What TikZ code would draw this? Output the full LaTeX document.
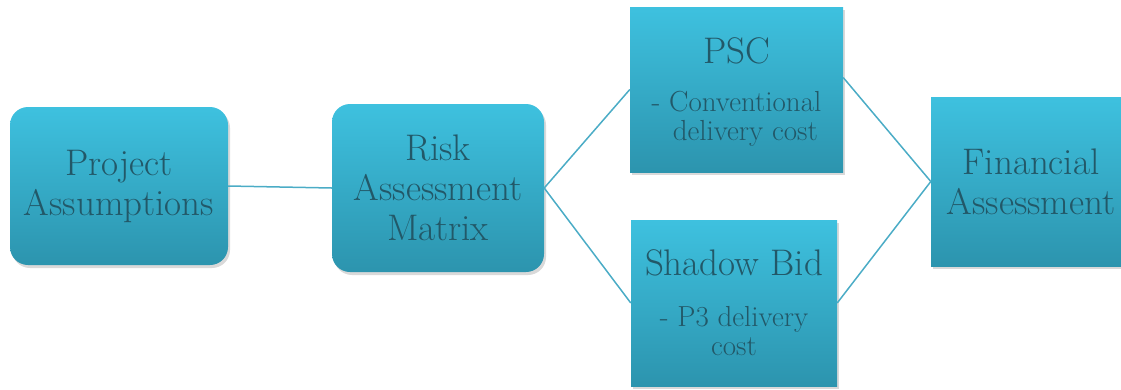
\documentclass[tikz,border=0pt]{standalone}
\usepackage{fontspec}
\usepackage{tikz}
\usetikzlibrary{shadows}
\definecolor{boxtop}{RGB}{62,193,223}
\definecolor{boxbot}{RGB}{44,148,174}
\definecolor{boxtxt}{RGB}{34,88,104}
\definecolor{linkcol}{RGB}{75,172,198}
\newcommand{\bigtxt}{\fontsize{37}{40}\selectfont}
\newcommand{\smalltxt}{\fontsize{29}{29}\selectfont}
\tikzset{
  stagebox/.style={top color=boxtop, bottom color=boxbot, draw=none,
    text=boxtxt, font=\bigtxt, align=center, inner sep=0pt,
    drop shadow={shadow xshift=2pt, shadow yshift=-3pt, opacity=0.15, fill=black}},
  roundbox/.style={stagebox, rounded corners=18pt},
  subtext/.style={text=boxtxt, font=\smalltxt, align=center, inner sep=0pt, anchor=north},
  titletext/.style={text=boxtxt, font=\bigtxt, inner sep=0pt, anchor=base},
  link/.style={draw=linkcol, line width=1.5pt}}

\begin{document}
\begin{tikzpicture}[x=1pt,y=1pt]
\useasboundingbox (0,0) rectangle (1121,-389);
\clip (0,0) rectangle (1121,-389);
\node[roundbox, minimum width=218pt, minimum height=158pt] (pa) at (119,-186) {Project\\Assumptions};
\node[roundbox, minimum width=212pt, minimum height=168pt] (ram) at (438,-188) {Risk\\Assessment\\Matrix};
\node[stagebox, minimum width=213pt, minimum height=165pt] (psc) at (736.5,-89.5) {};
\node[stagebox, minimum width=206pt, minimum height=166pt] (sb) at (734,-303) {};
\node[stagebox, minimum width=200pt, minimum height=169pt] (fa) at (1031,-181.5) {Financial\\Assessment};
% texts of the two cost boxes
\node[titletext] (psct) at ([yshift=26.5pt]psc.center) {PSC};
\node[subtext] (pscs) at ([yshift=-1.5pt]psc.center) {- Conventional\\\phantom{- }delivery cost};
\node[titletext] (sbt) at ([yshift=28pt]sb.center) {Shadow Bid};
\node[subtext] (sbs) at ([yshift=-3pt]sb.center) {- P3 delivery\\cost};
\draw[link] (pa.east) -- (ram.west);
\draw[link] (ram.east) -- (psc.west);
\draw[link] (ram.east) -- (sb.west);
\draw[link] ([yshift=12pt]psc.east) -- (fa.west);
\draw[link] (sb.east) -- (fa.west);
\end{tikzpicture}
\end{document}
